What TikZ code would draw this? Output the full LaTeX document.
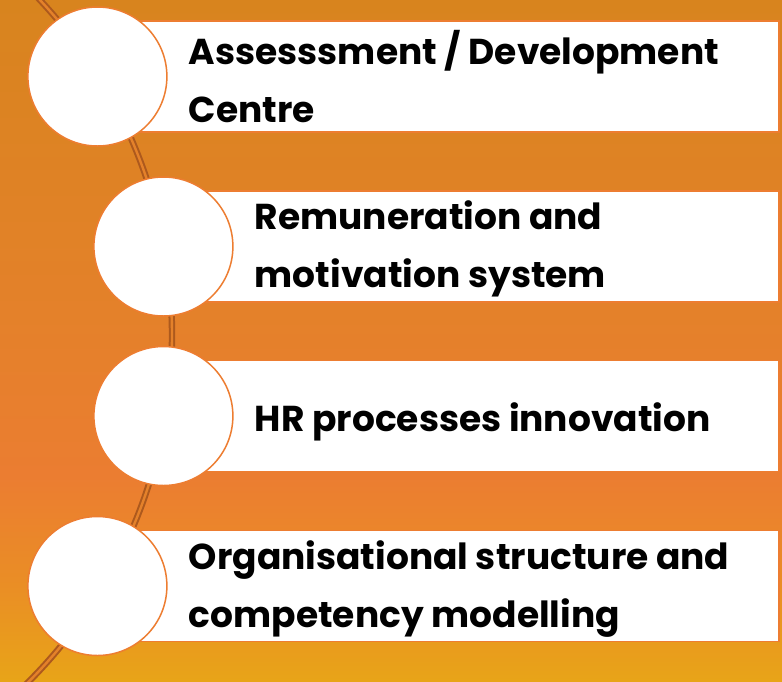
\documentclass[tikz,border=0pt]{standalone}
\usepackage{fontspec}
\setmainfont{Poppins}
\usetikzlibrary{positioning}

\definecolor{bgtop}{HTML}{D8841E}
\definecolor{bgupper}{HTML}{E4812A}
\definecolor{bgmid}{HTML}{EB7D31}
\definecolor{bglow}{HTML}{EA8E25}
\definecolor{bgbot}{HTML}{E8A418}
\definecolor{arcline}{HTML}{AD591D}
\definecolor{rimorange}{HTML}{ED7D31}
\pgfdeclareverticalshading{bgfade}{100bp}{color(0bp)=(bgbot); color(25bp)=(bgbot); color(32bp)=(bglow); color(40bp)=(bgmid); color(52bp)=(bgupper); color(75bp)=(bgtop); color(100bp)=(bgtop)}

\begin{document}
\begin{tikzpicture}[x=1pt, y=-1pt,
	every node/.style={node distance=21pt},
	panel/.style={rectangle, fill=white, draw=rimorange, line width=1.2pt, minimum height=111pt, inner sep=0pt},
	disc/.style={circle, fill=white, draw=rimorange, line width=1.5pt, minimum size=139pt, inner sep=0pt},
	caption/.style={align=left, inner sep=0pt, font=\bfseries\fontsize{36}{58}\selectfont}]
	% background
	\shade[shading=bgfade] (0,0) rectangle (782,681);
	\useasboundingbox (0,0) rectangle (782,681);
	% the arc behind
	\begin{scope}
		\clip (0,0) rectangle (782,681);
		\draw[draw=arcline, line width=2pt, double=bgupper, double distance=2.4pt] (-319,335) circle (491);
	\end{scope}
	% I
	\node[panel, minimum width=681pt](pass) at (438.5,76.5) {};
	\node[disc](cass) at (pass.west) {};
	\node[caption, right=of cass.east, anchor=west](tass) {Assesssment / Development\\Centre};
	% II
	\node[panel, minimum width=615pt](prem) at (471.5,246.5) {};
	\node[disc](crem) at (prem.west) {};
	\node[caption, right=of crem.east, anchor=west, yshift=-2pt](trem) {Remuneration and\\motivation system};
	% III
	\node[panel, minimum width=615pt](phr) at (471.5,416) {};
	\node[disc](chr) at (phr.west) {};
	\node[caption, right=of chr.east, anchor=west, yshift=-6pt](thr) {HR processes innovation};
	% IV
	\node[panel, minimum width=681pt](porg) at (438.5,586) {};
	\node[disc](corg) at (porg.west) {};
	\node[caption, right=of corg.east, anchor=west, yshift=-3pt](torg) {Organisational structure and\\competency modelling};
\end{tikzpicture}
\end{document}
